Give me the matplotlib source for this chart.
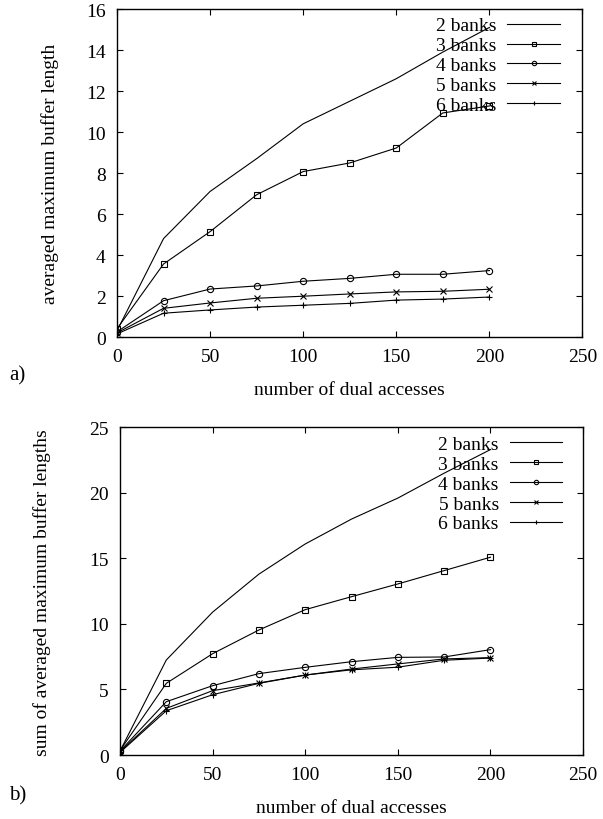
import matplotlib
matplotlib.use("Agg")
import matplotlib.pyplot as plt

plt.rcParams['font.family'] = ['Liberation Serif', 'DejaVu Serif']

x = [0, 25, 50, 75, 100, 125, 150, 175, 200]
labels = ["2 banks", "3 banks", "4 banks", "5 banks", "6 banks"]

# (a) averaged maximum buffer length
a_2 = [0.30, 4.80, 7.10, 8.70, 10.40, 11.50, 12.60, 13.90, 15.10]
a_3 = [0.40, 3.56, 5.14, 6.94, 8.07, 8.49, 9.22, 10.93, 11.27]
a_4 = [0.25, 1.77, 2.34, 2.49, 2.72, 2.86, 3.06, 3.06, 3.24]
a_5 = [0.20, 1.40, 1.66, 1.89, 1.99, 2.10, 2.20, 2.23, 2.33]
a_6 = [0.15, 1.16, 1.32, 1.46, 1.55, 1.64, 1.80, 1.85, 1.95]

# (b) sum of averaged maximum buffer lengths
b_2 = [0.30, 7.25, 10.90, 13.80, 16.10, 18.00, 19.60, 21.50, 23.30]
b_3 = [0.35, 5.47, 7.73, 9.54, 11.09, 12.08, 13.05, 14.07, 15.09]
b_4 = [0.30, 4.07, 5.29, 6.21, 6.69, 7.12, 7.45, 7.48, 8.04]
b_5 = [0.25, 3.56, 4.91, 5.50, 6.10, 6.56, 6.95, 7.33, 7.43]
b_6 = [0.20, 3.38, 4.60, 5.47, 6.10, 6.50, 6.70, 7.23, 7.40]

markers = [None, 's', 'o', 'x', '+']
fs = 14

fig = plt.figure(figsize=(6.03, 8.2), dpi=100)
ax_a = fig.add_axes([0.194, 0.5878, 0.772, 0.400])
ax_b = fig.add_axes([0.199, 0.078, 0.768, 0.3997])


def draw(ax, series, ylim, yticks, ylabel, ylab_x, leg_anchor):
    for s, m, lab in zip(series, markers, labels):
        ax.plot(x, s, color='black', lw=0.8, marker=m, markersize=4.5,
                markerfacecolor='none', markeredgewidth=0.8, label=lab)
    ax.set_xlim(0, 250)
    ax.set_ylim(*ylim)
    ax.set_xticks([0, 50, 100, 150, 200, 250])
    ax.set_yticks(yticks)
    ax.tick_params(direction='in', top=True, right=True, length=4, width=0.8,
                   labelsize=fs, pad=8)
    for sp in ax.spines.values():
        sp.set_linewidth(1.0)
    ax.set_xlabel("number of dual accesses", fontsize=fs, va='center')
    ax.xaxis.set_label_coords(0.5, -0.159)
    ax.set_ylabel(ylabel, fontsize=fs, va='center')
    ax.yaxis.set_label_coords(ylab_x, 0.5)
    ax.legend(loc='upper right', bbox_to_anchor=leg_anchor, frameon=False,
              markerfirst=False, fontsize=fs, handlelength=2.7,
              labelspacing=0.12, borderaxespad=0.0, borderpad=0.4,
              handletextpad=0.57, markerscale=0.7)


draw(ax_a, [a_2, a_3, a_4, a_5, a_6], (0, 16), list(range(0, 17, 2)),
     "averaged maximum buffer length", -0.144, (0.968, 1.0))
draw(ax_b, [b_2, b_3, b_4, b_5, b_6], (0, 25), list(range(0, 26, 5)),
     "sum of averaged maximum buffer lengths", -0.168, (0.972, 1.0))

fig.text(0.015, 1 - 376 / 820, "a)", fontsize=fs + 1, va='center', ha='left')
fig.text(0.015, 1 - 796 / 820, "b)", fontsize=fs + 1, va='center', ha='left')

fig.savefig("out.png", dpi=100)
